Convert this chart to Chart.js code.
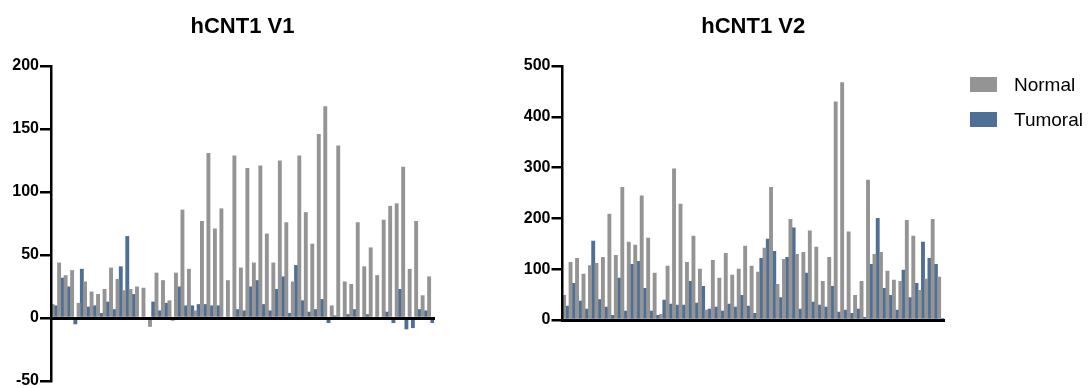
<!DOCTYPE html>
<html>
<head>
<meta charset="utf-8">
<script src="https://cdn.jsdelivr.net/npm/chart.js@4"></script>
<style>
    html, body { margin: 0; padding: 0; background: #fff; overflow: hidden; }
    body { width: 1088px; height: 388px; position: relative; }
    canvas { position: absolute; top: 0; }
    #chartV1 { left: 0; }
    #chartV2 { left: 480px; }
    .legend { position: absolute; left: 970px; top: 77px; font: 19px Arial, "Liberation Sans", sans-serif; color: #000; }
    .legend-row { display: flex; align-items: center; height: 15px; margin-bottom: 20px; white-space: nowrap; }
    .legend-box { width: 27px; height: 15px; margin-right: 17px; flex: none; }
</style>
</head>
<body>
<canvas id="chartV1" width="480" height="400"></canvas>
<canvas id="chartV2" width="608" height="400"></canvas>
<div class="legend" id="legend"></div>
<script>
// hCNT1 expression per sample, normal vs tumoral tissue
const seriesNames = ['Normal', 'Tumoral'];
const seriesColors = ['#949494', '#4e6f96'];

const v1Normal = [11, 44, 34, 38, 12, 29, 21, 19, 23, 40, 31, 22, 23, 25, 24, -7, 36, 30, 14, 36,
    86, 39, 6, 77, 131, 71, 87, 30, 129, 40, 119, 44, 121, 67, 44, 125, 76, 29, 129, 84,
    59, 146, 168, 10, 137, 29, 27, 76, 41, 56, 34, 78, 89, 91, 120, 39, 77, 18, 33];
const v1Tumoral = [10, 32, 25, -5, 39, 9, 10, 4, 13, 7, 41, 65, 19, 1, 0, 13, 6, 12, -2, 25,
    10, 10, 11, 11, 10, 10, 0, 0, 7, 6, 25, 30, 11, 6, 23, 33, 4, 42, 14, 5,
    7, 15, -4, 2, 0, 3, 7, 0, 3, 0, 0, 5, -4, 23, -9, -8, 7, 6, -4];

const v2Normal = [49, 114, 122, 91, 108, 112, 124, 209, 128, 262, 154, 148, 245, 162, 93, 12, 107, 298, 229, 114,
    166, 101, 20, 118, 83, 132, 89, 101, 146, 107, 95, 142, 262, 71, 120, 199, 130, 134, 176, 144,
    77, 124, 430, 468, 174, 49, 77, 276, 130, 134, 97, 79, 77, 197, 166, 59, 81, 199, 85];
const v2Tumoral = [28, 73, 38, 22, 156, 41, 26, 10, 83, 18, 110, 116, 63, 18, 10, 40, 32, 30, 30, 77,
    34, 67, 22, 26, 18, 32, 26, 49, 28, 14, 122, 160, 136, 45, 124, 182, 22, 93, 36, 30,
    26, 67, 16, 20, 14, 22, 6, 110, 201, 63, 49, 20, 99, 45, 73, 154, 122, 110, 4];

const v1Ticks = [-50, 0, 50, 100, 150, 200];
const v2Ticks = [0, 100, 200, 300, 400, 500];

const FONT = 'Arial, "Liberation Sans", Helvetica, sans-serif';
Chart.defaults.font.family = FONT;
Chart.defaults.color = '#000';

function makeChart(id, title, normal, tumoral, ticks, axisWidth, padRight, padBottom) {
    const labels = normal.map((_, i) => String(i + 1));
    return new Chart(document.getElementById(id), {
        type: 'bar',
        data: {
            labels: labels,
            datasets: [normal, tumoral].map((d, i) => ({
                label: seriesNames[i], data: d,
                backgroundColor: seriesColors[i], borderWidth: 0,
                categoryPercentage: 1.0, barPercentage: 1.2
            }))
        },
        options: {
            responsive: false, animation: false,
            layout: { padding: { left: 0, right: padRight, top: 0, bottom: padBottom } },
            plugins: {
                legend: { display: false },
                tooltip: { enabled: false },
                title: {
                    display: true, text: title, fullSize: false, color: '#000',
                    font: { size: 22, weight: 'bold' },
                    padding: { top: 13.8, bottom: 25.8 }
                }
            },
            scales: {
                x: {
                    position: { y: 0 },
                    grid: { display: false },
                    ticks: { display: false },
                    border: { display: true, color: '#000', width: 3, z: 1 }
                },
                y: {
                    min: ticks[0], max: ticks[ticks.length - 1],
                    ticks: { stepSize: ticks[1] - ticks[0], color: '#000', padding: 1, font: { size: 16, weight: 'bold' } },
                    grid: { display: true, drawOnChartArea: false, drawTicks: true, tickLength: 11, color: '#000', lineWidth: 2.5 },
                    border: { display: true, color: '#000', width: 2.5, z: 1 },
                    afterFit: s => { s.width = axisWidth; }
                }
            }
        }
    });
}

makeChart('chartV1', 'hCNT1 V1', v1Normal, v1Tumoral, v1Ticks, 51, 46, 19);
makeChart('chartV2', 'hCNT1 V2', v2Normal, v2Tumoral, v2Ticks, 82.5, 144, 80);

// Legend
document.getElementById('legend').innerHTML = seriesNames.map((name, i) => `
    <div class="legend-row"><div class="legend-box" style="background:${seriesColors[i]}"></div>${name}</div>
`).join('');
</script>
</body>
</html>
